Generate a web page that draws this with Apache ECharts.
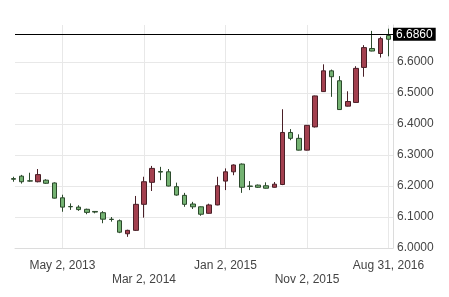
<!DOCTYPE html>
<html>
<head>
<meta charset="utf-8">
<script src="https://cdn.jsdelivr.net/npm/echarts@6/dist/echarts.min.js"></script>
<style>html,body{margin:0;padding:0;background:#fff;}#c{width:449px;height:297px;}</style>
</head>
<body>
<div id="c"></div>
<script>
// Monthly candles, Nov 2012 .. Aug 31 2016 (index 0..46)
const openV  = [6.224,6.232,6.217,6.214,6.219,6.210,6.162,6.134,6.132,6.125,6.118,6.114,6.093,6.088,6.046,6.057,6.141,6.212,6.247,6.246,6.198,6.170,6.142,6.133,6.112,6.139,6.216,6.246,6.271,6.200,6.203,6.201,6.196,6.205,6.373,6.354,6.316,6.391,6.505,6.572,6.540,6.458,6.470,6.583,6.644,6.628,6.686];
const closeV = [6.222,6.214,6.216,6.237,6.209,6.161,6.132,6.133,6.124,6.115,6.116,6.093,6.092,6.051,6.057,6.141,6.214,6.257,6.245,6.200,6.171,6.141,6.133,6.109,6.139,6.201,6.246,6.268,6.196,6.199,6.196,6.193,6.206,6.373,6.354,6.316,6.396,6.491,6.572,6.553,6.447,6.473,6.580,6.647,6.636,6.676,6.674];
const lowV   = [6.214,6.208,6.214,6.212,6.207,6.160,6.117,6.123,6.120,6.109,6.112,6.080,6.085,6.048,6.036,6.055,6.098,6.184,6.219,6.199,6.169,6.133,6.126,6.104,6.111,6.138,6.187,6.235,6.178,6.187,6.194,6.192,6.195,6.203,6.348,6.315,6.315,6.389,6.504,6.488,6.446,6.457,6.469,6.553,6.635,6.615,6.619];
const highV  = [6.230,6.236,6.243,6.255,6.222,6.212,6.172,6.144,6.138,6.127,6.119,6.119,6.100,6.092,6.059,6.168,6.230,6.265,6.262,6.255,6.211,6.178,6.149,6.134,6.143,6.230,6.257,6.270,6.273,6.216,6.205,6.212,6.213,6.448,6.384,6.367,6.397,6.492,6.593,6.576,6.555,6.506,6.587,6.655,6.701,6.682,6.708];
const tickIdx = [6, 16, 26, 36, 46];
const tickLabels = ['May 2, 2013', 'Mar 2, 2014', 'Jan 2, 2015', 'Nov 2, 2015', 'Aug 31, 2016'];
const yTicks = [6.0, 6.1, 6.2, 6.3, 6.4, 6.5, 6.6];
const CURRENT = 6.686;

const data = openV.map((o, i) => [i, o, closeV[i], lowV[i], highV[i]]);
const font = 'Liberation Sans, Arial, sans-serif';

const chart = echarts.init(document.getElementById('c'), null, {renderer: 'canvas'});
chart.setOption({
  animation: false,
  backgroundColor: '#fff',
  grid: {left: 15, right: 56, top: 25, bottom: 49, containLabel: false},
  xAxis: {
    type: 'value',
    min: 0.18, max: 46.55,
    axisLine: {show: true, lineStyle: {color: '#dcdcdc'}},
    axisTick: {show: false, customValues: tickIdx},
    splitLine: {show: true, lineStyle: {color: '#e8e8e8'}},
    axisLabel: {
      customValues: tickIdx,
      margin: 11,
      fontSize: 12, lineHeight: 14, color: '#444', fontFamily: font,
      formatter: function (v) {
        const k = tickIdx.indexOf(Math.round(v));
        if (k < 0) return '';
        return (k % 2 === 1 ? '\n' : '') + tickLabels[k];
      }
    }
  },
  yAxis: {
    type: 'value',
    position: 'right',
    min: 6.0, max: 6.72,
    axisLine: {show: true, lineStyle: {color: '#dcdcdc'}},
    axisTick: {show: false, customValues: yTicks},
    splitLine: {show: true, lineStyle: {color: '#e8e8e8'}},
    axisLabel: {
      customValues: yTicks,
      margin: 4, fontSize: 12, color: '#444', fontFamily: font,
      formatter: v => v.toFixed(4)
    }
  },
  series: [{
    type: 'candlestick',
    clip: true,
    data: data,
    encode: {x: 0, y: [1, 2, 3, 4]},
    barWidth: 5,
    itemStyle: {
      color: '#a3404f', color0: '#74b272',
      borderColor: '#4a1f27', borderColor0: '#2c4a2c',
      borderWidth: 1
    },
    markLine: {
      silent: true,
      symbol: ['none', 'none'],
      lineStyle: {color: '#000', width: 1, type: 'solid'},
      label: {
        show: true, position: 'end', distance: 0,
        formatter: CURRENT.toFixed(4),
        color: '#fff', backgroundColor: '#000',
        padding: [1, 3, 0, 3], fontSize: 12, fontFamily: font
      },
      data: [{yAxis: CURRENT}]
    }
  }]
});
</script>
</body>
</html>
